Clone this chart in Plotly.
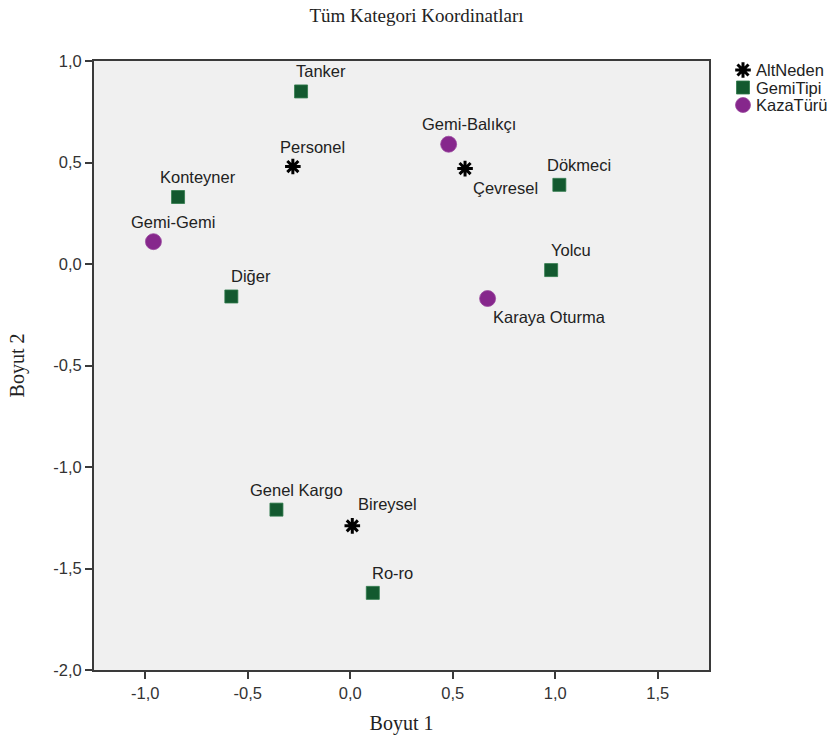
import plotly.graph_objects as go

# Category coordinates on the two dimensions
altneden_names = ["Personel", "Çevresel", "Bireysel"]
altneden_x = [-0.28, 0.56, 0.01]
altneden_y = [0.48, 0.47, -1.29]

gemitipi_names = ["Tanker", "Konteyner", "Diğer", "Dökmeci", "Yolcu", "Genel Kargo", "Ro-ro"]
gemitipi_x = [-0.24, -0.84, -0.58, 1.02, 0.98, -0.36, 0.11]
gemitipi_y = [0.85, 0.33, -0.16, 0.39, -0.03, -1.21, -1.62]

kazaturu_names = ["Gemi-Gemi", "Gemi-Balıkçı", "Karaya Oturma"]
kazaturu_x = [-0.96, 0.48, 0.67]
kazaturu_y = [0.11, 0.59, -0.17]

group_names = ["AltNeden", "GemiTipi", "KazaTürü"]

x_ticks = [-1.0, -0.5, 0.0, 0.5, 1.0, 1.5]
y_ticks = [-2.0, -1.5, -1.0, -0.5, 0.0, 0.5, 1.0]


def tick_text(v):
    # decimal comma and a plain hyphen for negatives
    return f"{v:.1f}".replace(".", ",")


# Label placement: (xanchor, xshift px, yshift px); default is centred above-right
label_place = {
    "Çevresel": ("left", 6, -19),
    "Karaya Oturma": ("left", 3, -18),
    "Bireysel": ("left", 4, 22),
}
default_place = ("center", 20, 20)

# Page geometry (px)
W, H = 835, 743
ML, MR, MT, MB = 94, 0, 61, 73
plot_right = 709
paper_w = W - ML - MR
main_dom = (plot_right - ML) / paper_w
key_left = 733
key_dom = (key_left - ML) / paper_w

styles = {
    "AltNeden": dict(symbol="asterisk-open", size=13, color="black",
                     line=dict(color="black", width=3)),
    "GemiTipi": dict(symbol="square", size=13, color="#13592f",
                     line=dict(color="#2f7a4a", width=0.8)),
    "KazaTürü": dict(symbol="circle", size=16, color="#86278c",
                     line=dict(color="#9a4aa0", width=0.8)),
}

label_font = dict(family="Liberation Sans, Arial", size=16.5, color="#222222")
serif = "Liberation Serif, Times New Roman"

fig = go.Figure()

# Light grey panel behind the main plot only
fig.add_shape(type="rect", xref="x domain", yref="y domain", x0=0, x1=1, y0=0, y1=1,
              fillcolor="#f0f0f0", line=dict(width=0), layer="below")

groups = [(altneden_names, altneden_x, altneden_y),
          (gemitipi_names, gemitipi_x, gemitipi_y),
          (kazaturu_names, kazaturu_x, kazaturu_y)]

for gname, (names, xs, ys) in zip(group_names, groups):
    fig.add_trace(go.Scatter(x=xs, y=ys, mode="markers", name=gname,
                             marker=styles[gname], showlegend=False,
                             hovertext=names))
    for n, xv, yv in zip(names, xs, ys):
        anchor, dx, dy = label_place.get(n, default_place)
        fig.add_annotation(x=xv, y=yv, text=n, showarrow=False,
                           xanchor=anchor, yanchor="middle",
                           xshift=dx, yshift=dy, font=label_font)

# Key at the right, drawn on its own pixel-scaled axes
key_rows = [70, 87.5, 105]
key_sym_x = 743
for gname, ry in zip(group_names, key_rows):
    st = dict(styles[gname])
    if gname == "KazaTürü":
        st["size"] = 15
    fig.add_trace(go.Scatter(x=[key_sym_x], y=[ry], mode="markers", name=gname,
                             marker=st, showlegend=False, hoverinfo="skip",
                             xaxis="x2", yaxis="y2"))
    fig.add_annotation(x=key_sym_x + 11, y=ry, xref="x2", yref="y2", text=gname,
                       showarrow=False, xanchor="left", yanchor="middle",
                       font=label_font)

axis_common = dict(
    showgrid=False, zeroline=False, showline=True, linecolor="#3a3a3a",
    linewidth=1.8, mirror=True, ticks="outside", ticklen=7, tickwidth=1.5,
    tickcolor="#3a3a3a",
    tickfont=dict(family="Liberation Sans, Arial", size=16.5, color="#333333"),
)

fig.update_layout(
    width=W, height=H,
    paper_bgcolor="white", plot_bgcolor="white",
    margin=dict(l=ML, r=MR, t=MT, b=MB),
    showlegend=False,
    title=dict(text="Tüm Kategori Koordinatları", x=416.5 / W, xanchor="center",
               xref="container", y=1 - 15 / H, yanchor="middle",
               font=dict(family=serif, size=19, color="#222222")),
    xaxis=dict(range=[-1.25, 1.75], domain=[0, main_dom],
               tickvals=x_ticks, ticktext=[tick_text(v) for v in x_ticks],
               title=dict(text="Boyut 1", standoff=15,
                          font=dict(family=serif, size=20, color="#222222")),
               **axis_common),
    yaxis=dict(range=[-2.0, 1.0],
               tickvals=y_ticks, ticktext=[tick_text(v) for v in y_ticks],
               title=dict(text="Boyut 2", standoff=23,
                          font=dict(family=serif, size=20, color="#222222")),
               **axis_common),
    xaxis2=dict(domain=[key_dom, 1], range=[key_left, W], visible=False,
                anchor="y2", fixedrange=True),
    yaxis2=dict(domain=[0, 1], range=[H - MB, MT], visible=False,
                anchor="x2", fixedrange=True),
)

fig.write_html("out.html")
